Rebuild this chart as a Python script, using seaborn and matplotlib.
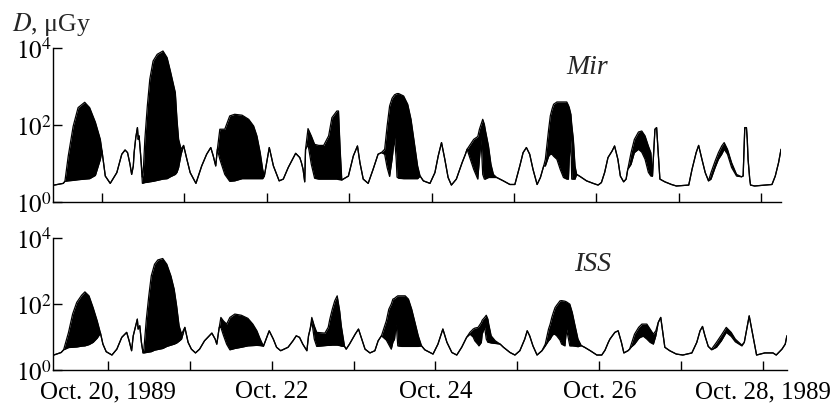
import matplotlib
matplotlib.use("Agg")
import matplotlib.pyplot as plt
import pandas as pd
import seaborn as sns

# Dose per orbit during the October 1989 solar proton event.
# Where the dose swings between orbit minimum and maximum, the band
# between the two envelopes is filled; elsewhere high == low.
mir_day = [19.42, 19.53, 19.55, 19.59, 19.65, 19.71, 19.79, 19.85, 19.92, 19.98,
           20.00, 20.04, 20.10, 20.18, 20.24, 20.28, 20.31, 20.34, 20.36, 20.38,
           20.39, 20.41, 20.43, 20.44, 20.45, 20.47, 20.49, 20.50, 20.52, 20.55,
           20.58, 20.62, 20.67, 20.74, 20.79, 20.83, 20.89, 20.91, 20.93, 20.96,
           20.99, 21.03, 21.07, 21.14, 21.21, 21.27, 21.32, 21.35, 21.38, 21.40,
           21.43, 21.49, 21.55, 21.61, 21.70, 21.78, 21.84, 21.88, 21.92, 21.95,
           21.97, 22.03, 22.08, 22.15, 22.20, 22.26, 22.35, 22.40, 22.42, 22.44,
           22.46, 22.47, 22.50, 22.54, 22.58, 22.63, 22.69, 22.75, 22.79, 22.85,
           22.87, 22.89, 22.91, 22.99, 23.05, 23.10, 23.13, 23.17, 23.23, 23.29,
           23.35, 23.39, 23.43, 23.46, 23.49, 23.52, 23.54, 23.55, 23.57, 23.58,
           23.60, 23.66, 23.71, 23.75, 23.79, 23.83, 23.86, 23.90, 23.98, 24.04,
           24.08, 24.12, 24.16, 24.20, 24.24, 24.30, 24.37, 24.41, 24.43, 24.47,
           24.51, 24.56, 24.58, 24.60, 24.62, 24.64, 24.65, 24.69, 24.72, 24.75,
           24.79, 24.87, 24.95, 25.01, 25.07, 25.11, 25.15, 25.19, 25.23, 25.28,
           25.32, 25.36, 25.38, 25.42, 25.44, 25.46, 25.48, 25.52, 25.56, 25.60,
           25.64, 25.66, 25.67, 25.69, 25.70, 25.72, 25.74, 25.76, 25.80, 25.88,
           25.96, 26.02, 26.06, 26.10, 26.14, 26.19, 26.22, 26.26, 26.29, 26.33,
           26.36, 26.38, 26.42, 26.46, 26.51, 26.55, 26.59, 26.63, 26.66, 26.68,
           26.69, 26.71, 26.73, 26.75, 26.77, 26.83, 26.91, 26.97, 27.12, 27.16,
           27.21, 27.24, 27.28, 27.32, 27.36, 27.39, 27.44, 27.48, 27.52, 27.55,
           27.59, 27.64, 27.70, 27.76, 27.78, 27.80, 27.82, 27.83, 27.84, 27.86,
           27.87, 27.92, 28.05, 28.13, 28.17, 28.21, 28.24]
mir_high = [2.8, 3.1, 3.5, 15.7, 94, 288, 396, 288, 120, 43,
            21.5, 4.8, 3.1, 5.9, 17.7, 22.8, 19.5, 9.7, 5.3, 8.8,
            19.5, 48, 87, 43, 53, 16, 4.5, 5.9, 43, 317,
            1570, 4680, 6980, 8510, 5730, 2570, 706, 143, 43, 23.8,
            30, 13.1, 5.9, 3.1, 8.8, 17.7, 26.4, 16, 8.8, 23.8,
            79, 79, 175, 193, 183, 143, 96, 53, 19.5, 7.2,
            4.8, 26.4, 8.8, 3.6, 4.0, 8.0, 18.7, 14.5, 10.7, 7.2,
            3.4, 23.8, 82, 53, 32, 30, 30, 53, 158, 235,
            235, 23.8, 3.8, 4.8, 16, 29, 10.7, 4.0, 3.1, 7.2,
            17.7, 19.5, 23.8, 96, 317, 503, 577, 620, 650, 666,
            666, 577, 351, 143, 35.5, 8.8, 4.8, 3.6, 3.1, 5.9,
            16, 35.5, 13.1, 4.4, 2.8, 4.0, 10.7, 17.7, 23.8, 32,
            43, 51, 79, 106, 143, 106, 79, 29, 9.7, 5.3,
            4.4, 3.6, 2.9, 2.9, 8.8, 19.5, 26.4, 17.7, 7.2, 2.9,
            4.4, 8.8, 13.1, 79, 175, 260, 351, 403, 403, 403,
            403, 330, 290, 193, 106, 43, 8.8, 5.3, 4.7, 3.6,
            3.1, 2.8, 3.25, 6.0, 14.5, 21.5, 29, 13.1, 4.8, 3.4,
            4.0, 7.2, 19.5, 43, 67, 71, 53, 29, 19.5, 4.8,
            13.1, 79, 87, 19.5, 4.0, 3.4, 2.9, 2.65, 2.8, 7.2,
            19.5, 30, 13.1, 5.9, 3.6, 5.9, 11.8, 19.5, 29, 35.5,
            23.8, 10.7, 5.3, 4.6, 4.8, 87, 87, 43, 13.1, 4.0,
            2.8, 2.65, 2.8, 2.9, 4.8, 10.7, 23.8]
mir_low = [2.8, 3.1, 3.5, 3.6, 3.7, 3.85, 4.0, 4.1, 5.0, 13,
           21.5, 4.8, 3.1, 5.9, 17.7, 22.8, 19.5, 9.7, 5.3, 8.8,
           19.5, 48, 87, 43, 53, 16, 3.1, 3.15, 3.25, 3.3,
           3.4, 3.5, 3.7, 4.0, 4.1, 4.6, 5.3, 6.0, 8.0, 17.7,
           30, 13.1, 5.9, 3.1, 8.8, 17.7, 26.4, 16, 8.8, 23.8,
           13.1, 5.3, 3.5, 3.6, 4.1, 4.1, 4.1, 4.1, 4.1, 4.1,
           4.8, 26.4, 8.8, 3.6, 4.0, 8.0, 18.7, 14.5, 10.7, 7.2,
           3.4, 23.8, 32, 9.7, 4.2, 4.0, 4.0, 4.0, 4.0, 4.0,
           3.9, 3.85, 3.8, 4.8, 16, 29, 10.7, 4.0, 3.1, 7.2,
           17.7, 19.5, 17.7, 8.0, 4.7, 13.1, 32, 48, 13.1, 4.5,
           4.2, 4.1, 4.1, 4.1, 4.1, 4.1, 4.8, 3.6, 3.1, 5.9,
           16, 35.5, 13.1, 4.4, 2.8, 4.0, 10.7, 17.7, 23.8, 13.1,
           7.2, 4.0, 13.1, 43, 5.3, 4.0, 4.0, 4.4, 4.4, 4.4,
           4.4, 3.6, 2.9, 2.9, 8.8, 19.5, 26.4, 17.7, 7.2, 2.9,
           4.4, 8.8, 8.8, 15.7, 17.7, 17.7, 15.7, 13.1, 7.2, 4.4,
           4.0, 4.0, 13.1, 43, 4.0, 4.0, 4.0, 5.3, 4.7, 3.6,
           3.1, 2.8, 3.25, 6.0, 14.5, 21.5, 29, 13.1, 4.8, 3.4,
           4.0, 7.2, 9.7, 19.5, 23.8, 20, 13.1, 6.0, 4.8, 4.8,
           13.1, 79, 87, 19.5, 4.0, 3.4, 2.9, 2.65, 2.8, 7.2,
           19.5, 30, 13.1, 5.9, 3.6, 4.0, 8.0, 13.1, 17.7, 23.8,
           17.7, 8.0, 4.8, 4.6, 4.8, 87, 87, 43, 13.1, 4.0,
           2.8, 2.65, 2.8, 2.9, 4.8, 10.7, 23.8]

iss_day = [19.34, 19.43, 19.46, 19.52, 19.57, 19.62, 19.68, 19.72, 19.77, 19.82,
           19.87, 19.91, 19.94, 19.98, 20.05, 20.11, 20.17, 20.23, 20.26, 20.29,
           20.31, 20.33, 20.36, 20.37, 20.39, 20.41, 20.43, 20.44, 20.47, 20.50,
           20.53, 20.57, 20.61, 20.67, 20.72, 20.77, 20.81, 20.84, 20.87, 20.90,
           20.94, 20.98, 21.02, 21.07, 21.12, 21.18, 21.27, 21.31, 21.33, 21.36,
           21.38, 21.41, 21.45, 21.49, 21.55, 21.63, 21.71, 21.77, 21.82, 21.86,
           21.90, 21.97, 22.02, 22.06, 22.11, 22.20, 22.26, 22.30, 22.34, 22.38,
           22.43, 22.45, 22.47, 22.49, 22.52, 22.55, 22.65, 22.69, 22.71, 22.74,
           22.77, 22.80, 22.83, 22.85, 22.89, 22.91, 22.95, 23.02, 23.06, 23.10,
           23.14, 23.20, 23.26, 23.30, 23.34, 23.40, 23.43, 23.46, 23.48, 23.50,
           23.52, 23.54, 23.59, 23.63, 23.67, 23.71, 23.75, 23.79, 23.83, 23.87,
           23.97, 24.03, 24.09, 24.14, 24.20, 24.26, 24.32, 24.38, 24.42, 24.46,
           24.48, 24.52, 24.53, 24.56, 24.57, 24.60, 24.62, 24.64, 24.65, 24.68,
           24.73, 24.79, 24.83, 24.91, 24.97, 25.03, 25.09, 25.12, 25.15, 25.19,
           25.24, 25.30, 25.34, 25.38, 25.40, 25.42, 25.44, 25.46, 25.48, 25.52,
           25.54, 25.58, 25.60, 25.64, 25.67, 25.70, 25.74, 25.78, 25.82, 25.89,
           25.97, 26.03, 26.07, 26.11, 26.13, 26.19, 26.23, 26.27, 26.30, 26.35,
           26.37, 26.39, 26.43, 26.48, 26.50, 26.52, 26.54, 26.58, 26.62, 26.66,
           26.69, 26.72, 26.75, 26.77, 26.80, 26.86, 26.94, 27.02, 27.13, 27.19,
           27.23, 27.26, 27.29, 27.33, 27.37, 27.43, 27.49, 27.55, 27.61, 27.66,
           27.74, 27.77, 27.80, 27.83, 27.86, 27.89, 27.92, 28.02, 28.12, 28.16,
           28.23, 28.27, 28.29]
iss_high = [2.85, 3.4, 4.1, 13.9, 50, 113, 187, 236, 179, 79,
            31.2, 13.2, 6.1, 3.6, 2.85, 4.3, 9.8, 13.9, 7.7, 3.85,
            10.9, 17.5, 35, 17.5, 22, 6.9, 3.3, 4.3, 35, 179,
            721, 1630, 2200, 2430, 1630, 721, 285, 89, 22, 12.3,
            19.7, 6.9, 4.3, 3.3, 4.3, 7.7, 13.2, 8.7, 6.1, 19.7,
            39.5, 31.2, 24.8, 39.5, 50, 46, 37, 24.8, 15.5, 8.7,
            5.3, 15.5, 8.7, 4.9, 3.85, 4.9, 7.7, 10.9, 9.8, 6.1,
            3.85, 10.9, 17.5, 39.5, 22, 13.9, 13.2, 19.7, 35, 70,
            126, 179, 63, 22, 5.2, 4.3, 6.1, 12.3, 17.5, 8.7,
            4.3, 3.3, 3.85, 7.7, 10.9, 31.2, 70, 100, 142, 150,
            165, 179, 179, 179, 142, 70, 27.9, 10.9, 5.4, 4.1,
            3.05, 6.1, 17.5, 6.9, 3.4, 2.85, 4.9, 9.8, 13.9, 17.5,
            18.7, 19.7, 21.5, 27.9, 32.5, 39.5, 46, 35, 24.8, 10.9,
            7.7, 6.1, 4.9, 3.4, 2.85, 3.85, 8.7, 15.5, 10.9, 5.4,
            2.85, 3.85, 6.1, 17.5, 24.8, 39.5, 57, 79, 93, 126,
            128, 123, 117, 100, 56, 24.8, 8.7, 5.5, 4.9, 3.85,
            2.85, 2.85, 4.0, 6.9, 8.7, 13.9, 15.5, 6.9, 3.3, 3.85,
            4.3, 6.1, 12.3, 19.7, 22, 24.8, 24.8, 24.8, 17.5, 12.3,
            15.5, 27.9, 39.5, 17.5, 4.9, 3.85, 3.05, 2.85, 3.3, 6.9,
            15.5, 21, 10.9, 5.2, 4.3, 6.9, 11.5, 19.7, 13.9, 8.7,
            5.7, 6.9, 17.5, 44, 17.5, 6.9, 2.85, 3.3, 3.3, 2.85,
            4.3, 6.1, 10.9]
iss_low = [2.85, 3.4, 4.1, 4.8, 4.9, 5.0, 5.3, 5.4, 5.9, 6.9,
           9.3, 13.2, 6.1, 3.6, 2.85, 4.3, 9.8, 13.9, 7.7, 3.85,
           10.9, 17.5, 35, 17.5, 22, 6.9, 3.3, 3.3, 3.4, 3.5,
           3.6, 4.0, 4.2, 4.5, 5.2, 5.7, 6.1, 6.6, 7.5, 8.7,
           19.7, 6.9, 4.3, 3.3, 4.3, 7.7, 13.2, 8.7, 6.1, 19.7,
           19.7, 11.5, 6.1, 4.1, 4.5, 4.9, 5.4, 5.5, 5.6, 5.5,
           5.3, 15.5, 8.7, 4.9, 3.85, 4.9, 7.7, 10.9, 9.8, 6.1,
           3.85, 10.9, 17.5, 30.5, 8.7, 5.2, 5.5, 5.6, 5.6, 5.7,
           5.7, 5.7, 5.5, 5.3, 5.2, 4.3, 6.1, 12.3, 17.5, 8.7,
           4.3, 3.3, 3.85, 7.7, 10.9, 8.1, 5.9, 4.3, 7.0, 8.7,
           24.8, 5.4, 5.2, 5.2, 5.2, 5.2, 5.2, 5.2, 5.4, 4.1,
           3.05, 6.1, 17.5, 6.9, 3.4, 2.85, 4.9, 9.8, 12.3, 10,
           7.7, 5.9, 5.4, 6.9, 12.3, 20, 8.7, 6.9, 6.9, 6.6,
           6.4, 6.1, 4.9, 3.4, 2.85, 3.85, 8.7, 15.5, 10.9, 5.4,
           2.85, 3.85, 5.4, 7.7, 8.7, 10.7, 12.3, 12, 10.9, 8.1,
           6.1, 5.4, 17.5, 5.4, 5.4, 5.3, 5.1, 5.5, 4.9, 3.85,
           2.85, 2.85, 4.0, 6.9, 8.7, 13.9, 15.5, 6.9, 3.3, 3.85,
           4.3, 5.0, 6.1, 9.0, 9.8, 10.3, 10.5, 8.7, 6.9, 6.1,
           10.9, 27.9, 39.5, 17.5, 4.9, 3.85, 3.05, 2.85, 3.3, 6.9,
           15.5, 21, 10.9, 5.2, 4.1, 4.9, 7.7, 13.9, 10.5, 7.2,
           5.4, 6.9, 17.5, 44, 17.5, 6.9, 2.85, 3.3, 3.3, 2.85,
           4.3, 6.1, 10.9]

day_ticks = [20, 21, 22, 23, 24, 25, 26, 27, 28]
day_labels = ["Oct. 20, 1989", "", "Oct. 22", "", "Oct. 24", "",
              "Oct. 26", "", "Oct. 28, 1989"]
dose_ticks = [1, 100, 10000]
dose_labels = [r"$10^0$", r"$10^2$", r"$10^4$"]

sns.set_theme(style="ticks")
plt.rcParams["font.family"] = ["Liberation Serif", "DejaVu Serif"]
plt.rcParams["mathtext.fontset"] = "stix"

TICK_FS = 18
NAME_FS = 20

fig = plt.figure(figsize=(8.34, 4.06), dpi=100)
ax_mir = fig.add_axes([0.0635, 0.4993, 0.873, 0.3793])
ax_iss = fig.add_axes([0.0635, 0.0862, 0.880, 0.3244])


def draw_panel(ax, day, high, low, xlim, show_labels):
    df = pd.DataFrame({"day": day, "high": high, "low": low})
    ax.fill_between(df["day"], df["low"], df["high"], color="black", linewidth=0)
    for col in ("high", "low"):
        sns.lineplot(data=df, x="day", y=col, ax=ax, color="black",
                     linewidth=0.9, estimator=None, sort=False)
    ax.set_yscale("log")
    ax.set_ylim(1, 1e4)
    ax.set_xlim(*xlim)
    ax.set_xlabel("")
    ax.set_ylabel("")
    ax.set_yticks(dose_ticks)
    ax.set_yticklabels(dose_labels)
    ax.minorticks_off()
    ax.set_xticks(day_ticks)
    ax.set_xticklabels(day_labels if show_labels else [])
    ax.tick_params(axis="both", direction="in", length=6.5, width=1.0,
                   colors="black", labelsize=TICK_FS)
    ax.tick_params(axis="y", pad=1.0)
    ax.tick_params(axis="x", pad=7.5)
    sns.despine(ax=ax)
    for side in ("left", "bottom"):
        ax.spines[side].set_linewidth(1.0)
        ax.spines[side].set_color("black")
    ax.set_facecolor("white")


draw_panel(ax_mir, mir_day, mir_high, mir_low, (19.405, 28.24), False)
draw_panel(ax_iss, iss_day, iss_high, iss_low, (19.33, 28.29), True)

ax_mir.text(0.7335, 0.879, "Mir", transform=ax_mir.transAxes, ha="center",
            va="center", fontsize=NAME_FS, fontstyle="italic")
ax_iss.text(0.7357, 0.805, "ISS", transform=ax_iss.transAxes, ha="center",
            va="center", fontsize=NAME_FS, fontstyle="italic")

fig.text(0.0144, 0.9236, r"$D$, μGy", ha="left", va="baseline", fontsize=18.5)

fig.savefig("out.png", dpi=100, facecolor="white")
